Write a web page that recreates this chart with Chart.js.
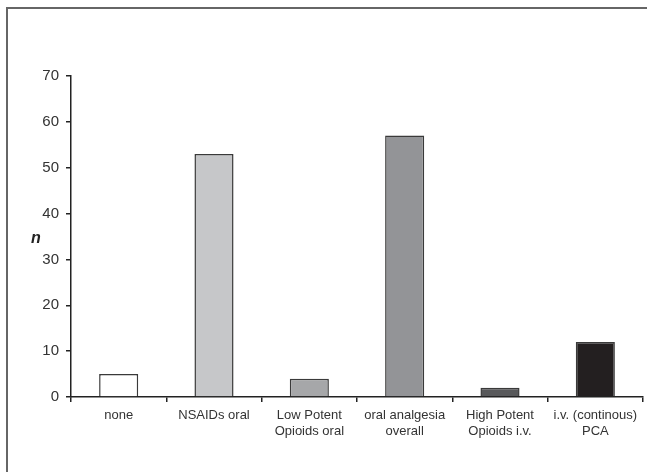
<!DOCTYPE html>
<html>
<head>
<title>analgesia</title>
<script src="https://cdn.jsdelivr.net/npm/chart.js@4.4.1/dist/chart.umd.min.js"></script>
<style>
  html, body { margin: 0; padding: 0; background: #fff; }
  #wrap { position: relative; width: 647px; height: 472px; overflow: hidden; }
  #frame { position: absolute; left: 6px; top: 7px; width: 700px; height: 520px;
           border-left: 2px solid #666; border-top: 2px solid #666; }
  #stage { position: absolute; left: 0; top: 0; }
  #ytitle { position: absolute; left: 31px; top: 229px; font: italic bold 16px 'Liberation Sans', Arial, sans-serif; color: #222; }
</style>
</head>
<body>
<div id="wrap">
  <div id="frame"></div>
  <canvas id="stage" width="647" height="472"></canvas>
  <div id="ytitle">n</div>
</div>
<script>
var categories = [
    'none',
    'NSAIDs oral',
    ['Low Potent', 'Opioids oral'],
    ['oral analgesia', 'overall'],
    ['High Potent', 'Opioids i.v.'],
    ['i.v. (continous)', 'PCA']
];
var counts = [5, 53, 4, 57, 2, 12];
var barColors = ['#ffffff', '#c6c7c9', '#a6a7a9', '#939497', '#58595b', '#231f20'];
var yTicks = [0, 10, 20, 30, 40, 50, 60, 70];

var mydata = {
    labels: categories,
    datasets: [{
        data: counts,
        backgroundColor: barColors,
        borderColor: '#3a3a3a',
        borderWidth: 1.5,
        categoryPercentage: 1,
        barPercentage: 0.41
    }]
};

var options = {
    responsive: false,
    animation: false,
    layout: { padding: { top: 76, right: 4, left: 0, bottom: 0 } },
    plugins: { legend: { display: false }, tooltip: { enabled: false } },
    scales: {
        x: {
            grid: { offset: true, drawOnChartArea: false, tickLength: 5, color: '#222', lineWidth: 1.5 },
            border: { color: '#222', width: 1.5 },
            ticks: { color: '#333', font: { family: 'Liberation Sans, Arial', size: 13 }, padding: 6, maxRotation: 0, autoSkip: false },
            afterFit: function (scale) { scale.height = 75; }
        },
        y: {
            min: 0, max: 70,
            afterBuildTicks: function (scale) { scale.ticks = yTicks.map(function (v) { return { value: v }; }); },
            grid: { drawOnChartArea: false, tickLength: 5, color: '#222', lineWidth: 1.5 },
            border: { color: '#222', width: 1.5 },
            ticks: { color: '#333', font: { family: 'Liberation Sans, Arial', size: 15 }, padding: 7 },
            afterFit: function (scale) { scale.width = 71; }
        }
    }
};

var canvas = document.getElementById('stage');
var chart = new Chart(canvas, { type: 'bar', data: mydata, options: options });
</script>
</body>
</html>
